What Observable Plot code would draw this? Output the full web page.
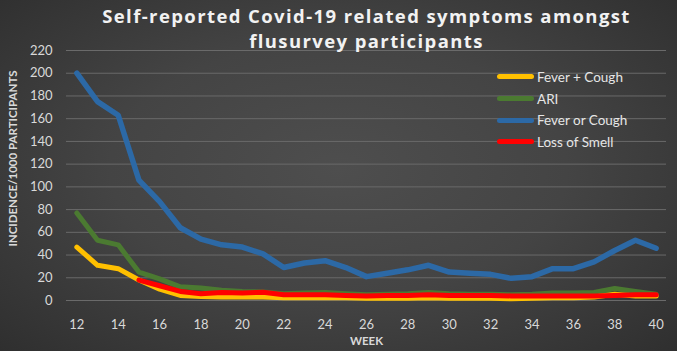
<!DOCTYPE html>
<html>
<head>
<meta charset="utf-8">
<script src="https://cdn.jsdelivr.net/npm/d3@7"></script>
<script src="https://cdn.jsdelivr.net/npm/@observablehq/plot@0.6"></script>
<style>
  html, body { margin: 0; padding: 0; background: #2b2b2b; }
  #chart {
    position: relative; width: 677px; height: 351px; overflow: hidden;
    background: radial-gradient(ellipse 75% 80% at 50% 48%, #4e4e4e 0%, #444 45%, #2c2c2c 100%);
  }
  #chart svg { position: absolute; left: 0; top: 0; background: transparent; }
  .legend { position: absolute; left: 497px; top: 66px; font-family: Lato, "Open Sans", sans-serif; font-size: 13.5px; color: #e6e6e6; }
  .legend .row { display: flex; align-items: center; height: 21.7px; }
  .legend .sw { width: 37px; height: 5px; border-radius: 3px; margin-right: 3px; }
</style>
</head>
<body>
<div id="chart"></div>
<script>
const weeks = [12,13,14,15,16,17,18,19,20,21,22,23,24,25,26,27,28,29,30,31,32,33,34,35,36,37,38,39,40];
const feverCough = [47,31,28,18,10,4.5,3.5,3,3,3,2.5,2.5,2.5,2.5,2,2,2,2.5,2,2,2,1.5,2,2.5,2.5,3,5.5,4,4];
const ari = [77,53,49,25,19,12,11,9,8,7.5,6,6.5,7,6,5,5.5,6,7,6,5.5,5.5,5,5.5,6.5,6.5,7,10.5,8,5.5];
const feverOrCough = [200,175,163,106,87,64,54,49,47,41,29,33,35,29,21,24,27,31,25,24,23,19.5,21,28,28,34,44,53,46];
const lossSmell = [null,null,null,18,13,8,6,7,6.5,7.3,5,5,5,4.5,4,4.5,4.5,5,4.5,4.5,4.5,4,4,4,4,4,4.5,5,5];
const seriesNames = ["Fever + Cough", "ARI", "Fever or Cough", "Loss of Smell"];
const seriesColors = ["#FFC000", "#4B7A31", "#2C69A6", "#FF0000"];
const seriesValues = [feverCough, ari, feverOrCough, lossSmell];
const xTicks = [12,14,16,18,20,22,24,26,28,30,32,34,36,38,40];
const yTicks = [0,20,40,60,80,100,120,140,160,180,200,220];
const titleLines = ["Self-reported Covid-19 related symptoms amongst", "flusurvey participants"];

const rows = [];
seriesNames.forEach((name, i) => {
  weeks.forEach((w, j) => {
    const v = seriesValues[i][j];
    if (v != null) rows.push({series: name, week: w, value: v});
  });
});

const drawOrder = ["ARI", "Fever or Cough", "Fever + Cough", "Loss of Smell"];

const plot = Plot.plot({
  width: 677,
  height: 351,
  marginLeft: 66,
  marginRight: 11,
  marginTop: 50,
  marginBottom: 51,
  style: {background: "transparent", fontFamily: "Lato, 'Open Sans', sans-serif", color: "#d9d9d9", overflow: "visible"},
  x: {domain: [11.5, 40.5], ticks: xTicks, tickFormat: d => String(d)},
  y: {domain: [0, 220], ticks: yTicks},
  color: {domain: seriesNames, range: seriesColors},
  marks: [
    Plot.gridY(yTicks, {stroke: "#6a6a6a", strokeOpacity: 1, strokeWidth: 1}),
    Plot.axisY(yTicks, {tickSize: 0, tickPadding: 14, fontSize: 13, fill: "#d9d9d9", label: null}),
    Plot.axisX(xTicks, {tickSize: 0, tickPadding: 19, fontSize: 13, fill: "#d9d9d9", label: null}),
    ...drawOrder.map(name => Plot.line(rows.filter(r => r.series === name), {
      x: "week", y: "value", stroke: seriesColors[seriesNames.indexOf(name)],
      strokeWidth: name === "Fever or Cough" ? 5.5 : 5, strokeLinejoin: "round", strokeLinecap: "round"
    })),
    Plot.text([titleLines[0]], {frameAnchor: "top", dy: -41, text: d => d, fontSize: 18.5, fontWeight: "bold", fill: "#f2f2f2", fontFamily: "'Open Sans', sans-serif"}),
    Plot.text([titleLines[1]], {frameAnchor: "top", dy: -16, text: d => d, fontSize: 18.5, fontWeight: "bold", fill: "#f2f2f2", fontFamily: "'Open Sans', sans-serif"}),
    Plot.text(["WEEK"], {frameAnchor: "bottom", dy: 44, text: d => d, fontSize: 11.5, fontWeight: "bold", fill: "#d9d9d9"}),
    Plot.text(["INCIDENCE/1000 PARTICIPANTS"], {frameAnchor: "left", textAnchor: "middle", dx: -53, dy: -17, rotate: -90, text: d => d, fontSize: 11.5, fontWeight: "bold", fill: "#d9d9d9"})
  ]
});
plot.querySelectorAll("text").forEach(t => {
  if (titleLines.includes(t.textContent)) t.setAttribute("letter-spacing", "1.4");
});
const chart = document.getElementById("chart");
chart.appendChild(plot);

const legend = document.createElement("div");
legend.className = "legend";
seriesNames.forEach((name, i) => {
  const row = document.createElement("div");
  row.className = "row";
  row.innerHTML = `<span class="sw" style="background:${seriesColors[i]}"></span><span>${name}</span>`;
  legend.appendChild(row);
});
chart.appendChild(legend);
</script>
</body>
</html>
